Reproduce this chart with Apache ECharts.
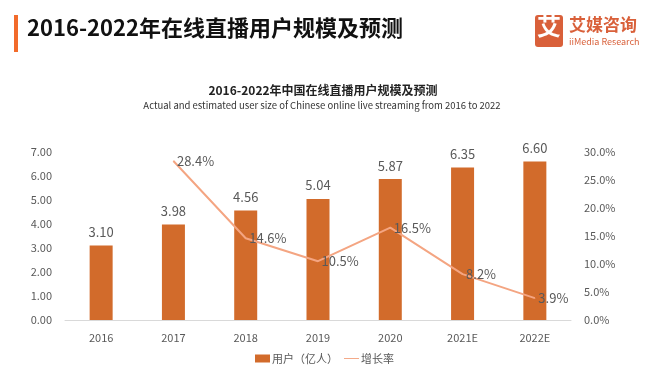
<!DOCTYPE html>
<html>
<head>
<meta charset="utf-8">
<script src="https://cdn.jsdelivr.net/npm/echarts@6/dist/echarts.min.js"></script>
<style>
  html, body { margin: 0; padding: 0; background: #fff; }
  #chart { width: 665px; height: 377px; }
</style>
</head>
<body>
<div id="chart"></div>
<script>
const categories = ["2016", "2017", "2018", "2019", "2020", "2021E", "2022E"];
const users = [3.10, 3.98, 4.56, 5.04, 5.87, 6.35, 6.60];
const growth = [null, 28.4, 14.6, 10.5, 16.5, 8.2, 3.9];

const FONT = '"Noto Sans CJK SC", "Noto Sans", sans-serif';
const LABEL_COLOR = "#595959";
const BAR_COLOR = "#D26B2B";
const LINE_COLOR = "#F4A582";

const chart = echarts.init(document.getElementById("chart"));

const option = {
  animation: false,
  textStyle: { fontFamily: FONT },
  graphic: [
    { type: "rect", shape: { x: 14, y: 15, width: 4, height: 37 }, style: { fill: "#F26B2B" } },
    {
      type: "text", x: 27, y: 17,
      style: { text: "2016-2022年在线直播用户规模及预测", font: "bold 22px " + FONT, fill: "#111" },
    },
    // chart title + subtitle
    {
      type: "text", x: 323, y: 84,
      style: { text: "2016-2022年中国在线直播用户规模及预测", font: "bold 12px " + FONT, fill: "#222", textAlign: "center" },
    },
    {
      type: "text", x: 322, y: 101,
      style: { text: "Actual and estimated user size of Chinese online live streaming from 2016 to 2022", font: "9.5px " + FONT, fill: "#333", textAlign: "center" },
    },
    // logo
    { type: "rect", shape: { x: 535, y: 15, width: 28, height: 32, r: 3 }, style: { fill: "#D9603A" } },
    {
      type: "text", x: 537, y: 14,
      style: { text: "艾", font: "bold 24px " + FONT, fill: "#fff" },
    },
    {
      type: "text", x: 569, y: 16,
      style: { text: "艾媒咨询", font: "bold 17px " + FONT, fill: "#D9603A" },
    },
    {
      type: "text", x: 569, y: 37,
      style: { text: "iiMedia Research", font: "9px " + FONT, fill: "#D9603A" },
    },
  ],
  legend: {
    bottom: 8,
    left: 250,
    itemWidth: 15,
    itemHeight: 8,
    itemGap: 6,
    textStyle: { fontSize: 11, color: LABEL_COLOR, fontFamily: FONT, padding: [0, 0, 0, -3] },
    data: [
      { name: "用户（亿人）", icon: "rect" },
      { name: "增长率", icon: "path://M0,4 L16,4 L16,5 L0,5 Z", itemStyle: { color: LINE_COLOR } },
    ],
  },
  grid: { left: 65, right: 94, top: 152, bottom: 57 },
  xAxis: {
    type: "category",
    data: categories,
    axisLine: { lineStyle: { color: "#D9D9D9" } },
    axisTick: { show: false },
    axisLabel: { fontSize: 11, color: LABEL_COLOR, margin: 12, fontFamily: FONT },
  },
  yAxis: [
    {
      type: "value",
      min: 0, max: 7, interval: 1,
      splitLine: { show: false },
      axisLine: { show: false },
      axisTick: { show: false },
      axisLabel: { fontSize: 11, color: LABEL_COLOR, margin: 13, formatter: (v) => v.toFixed(2), fontFamily: FONT },
    },
    {
      type: "value",
      min: 0, max: 30, interval: 5,
      splitLine: { show: false },
      axisLine: { show: false },
      axisTick: { show: false },
      axisLabel: { fontSize: 11, color: LABEL_COLOR, margin: 13, formatter: (v) => v.toFixed(1) + "%", fontFamily: FONT },
    },
  ],
  series: [
    {
      name: "用户（亿人）",
      type: "bar",
      data: users,
      barWidth: 23,
      itemStyle: { color: BAR_COLOR },
      label: {
        show: true, position: "top", distance: 7,
        fontSize: 13, color: LABEL_COLOR, fontFamily: FONT,
        formatter: (p) => Number(p.value).toFixed(2),
      },
    },
    {
      name: "增长率",
      type: "line",
      yAxisIndex: 1,
      data: growth,
      symbol: "circle",
      symbolSize: 1,
      showSymbol: true,
      itemStyle: { color: LINE_COLOR },
      lineStyle: { color: LINE_COLOR, width: 2 },
      label: {
        show: true, position: "right", distance: 3,
        fontSize: 13, color: LABEL_COLOR, fontFamily: FONT,
        formatter: (p) => (p.value == null ? "" : Number(p.value).toFixed(1) + "%"),
      },
      labelLayout: { hideOverlap: false },
      z: 5,
    },
  ],
};

chart.setOption(option);
</script>
</body>
</html>
